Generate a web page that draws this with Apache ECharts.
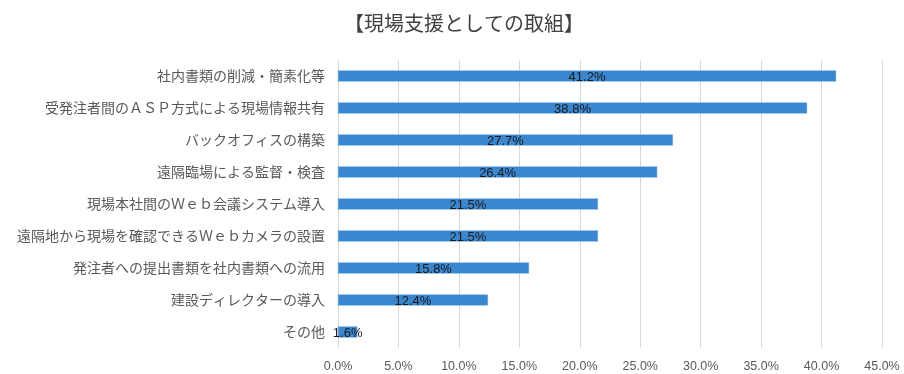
<!DOCTYPE html>
<html><head><meta charset="utf-8">
<script src="https://cdn.jsdelivr.net/npm/echarts@6/dist/echarts.min.js"></script>
<style>html,body{margin:0;padding:0;background:#fff}#c{width:904px;height:374px}</style>
</head><body><div id="c"></div>
<script>
const title = '【現場支援としての取組】';
const categories = [
  '社内書類の削減・簡素化等',
  '受発注者間のＡＳＰ方式による現場情報共有',
  'バックオフィスの構築',
  '遠隔臨場による監督・検査',
  '現場本社間のＷｅｂ会議システム導入',
  '遠隔地から現場を確認できるＷｅｂカメラの設置',
  '発注者への提出書類を社内書類への流用',
  '建設ディレクターの導入',
  'その他'
];
const values = [41.2, 38.8, 27.7, 26.4, 21.5, 21.5, 15.8, 12.4, 1.6];
const xTicks = [0, 5, 10, 15, 20, 25, 30, 35, 40, 45];

const chart = echarts.init(document.getElementById('c'), null, {renderer: 'canvas'});
chart.setOption({
  animation: false,
  title: {
    text: title, left: 459, top: 8, textAlign: 'center',
    textStyle: {fontFamily: 'Noto Sans CJK JP', fontSize: 20, fontWeight: 'normal', color: '#404040'}
  },
  grid: {left: 338, right: 22, top: 60, bottom: 26, containLabel: false},
  xAxis: {
    type: 'value', min: xTicks[0], max: xTicks[xTicks.length - 1], interval: 5,
    axisLine: {show: false}, axisTick: {show: false},
    splitLine: {lineStyle: {color: '#d9d9d9', width: 1}},
    axisLabel: {formatter: v => v.toFixed(1) + '%', color: '#595959', fontSize: 12.5, fontFamily: 'Liberation Sans', margin: 12}
  },
  yAxis: {
    type: 'category', data: categories, inverse: true,
    axisLine: {show: true, lineStyle: {color: '#d9d9d9'}}, axisTick: {show: false},
    axisLabel: {color: '#595959', fontSize: 14, fontFamily: 'Noto Sans CJK JP', margin: 13}
  },
  series: [{
    type: 'bar', data: values, barWidth: 11,
    itemStyle: {color: '#3A86CF', borderColor: '#5a9ad8', borderWidth: 0.5},
    label: {show: true, position: 'inside', formatter: p => p.value.toFixed(1) + '%',
      color: '#1a1a1a', fontSize: 13, fontFamily: 'Liberation Sans', offset: [0, 1]}
  }]
});
</script></body></html>
